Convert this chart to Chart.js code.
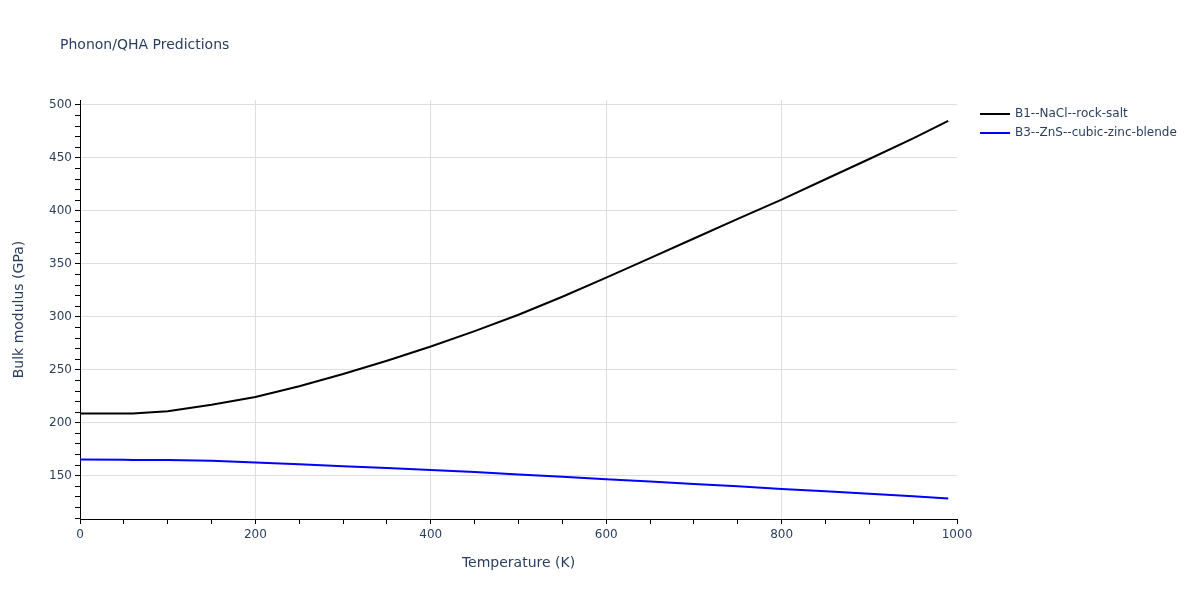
<!DOCTYPE html>
<html lang="en">
<head>
  <meta charset="UTF-8">
  <title>Phonon/QHA Predictions</title>
  <style>
    body { margin: 0; background: #fff; }
    .chart-container { width: 1200px; height: 600px; }
  </style>
</head>
<body>
  <div class="chart-container">
    <canvas id="myChart" width="1200" height="600"></canvas>
  </div>

  <script src="https://cdn.jsdelivr.net/npm/chart.js"></script>
  <script>
    // Temperatures (K) and bulk modulus (GPa).
    const temps = [0, 50, 60, 100, 150, 200, 250, 300, 350, 400, 450, 500, 550, 600, 650, 700, 750, 800, 850, 900, 950, 990];
    const rockSalt = [208.7, 208.7, 208.8, 211, 217, 224.3, 234.5, 246, 258.5, 272, 286.5, 302, 319, 337, 355.5, 374, 392.5, 410.6, 429.9, 449, 468.5, 485];
    const zincBlende = [165.4, 165.1, 165.0, 164.8, 164.2, 162.6, 160.8, 159, 157.3, 155.5, 153.5, 151.3, 149, 146.8, 144.6, 142.3, 140, 137.6, 135.3, 133, 130.6, 128.6];
    const seriesNames = ['B1--NaCl--rock-salt', 'B3--ZnS--cubic-zinc-blende'];
    const seriesColors = ['#000000', '#0000ff'];

    // Labelled ticks.
    const xTickLabels = [0, 200, 400, 600, 800, 1000];
    const yTickLabels = [150, 200, 250, 300, 350, 400, 450, 500];

    const TEXT_COLOR = '#2a3f5f';
    const GRID_COLOR = '#dedede';
    const FONT = '"DejaVu Sans", Verdana, sans-serif';

    /**
     * Title and legend drawn in the padding area.
     */
    const decorPlugin = {
      id: 'decor',
      afterDraw(chart) {
        const ctx = chart.ctx;
        ctx.save();
        ctx.fillStyle = TEXT_COLOR;
        ctx.textBaseline = 'middle';
        ctx.textAlign = 'left';
        ctx.font = '14px ' + FONT;
        ctx.fillText('Phonon/QHA Predictions', 60, 45);

        ctx.font = '12px ' + FONT;
        seriesNames.forEach((name, i) => {
          const y = 114 + i * 19;
          ctx.strokeStyle = seriesColors[i];
          ctx.lineWidth = 2;
          ctx.beginPath();
          ctx.moveTo(980, y);
          ctx.lineTo(1010, y);
          ctx.stroke();
          ctx.fillText(name, 1015, y);
        });
        ctx.restore();
      }
    };

    function drawChart() {
      const myChart = document.querySelector('#myChart');

      const datasets = [rockSalt, zincBlende].map((vals, i) => ({
        label: seriesNames[i],
        data: temps.map((t, j) => ({x: t, y: vals[j]})),
        borderColor: seriesColors[i],
        borderWidth: 2,
        pointRadius: 0,
        tension: 0,
        fill: false
      }));

      const config = {
        type: 'line',
        data: {datasets},
        options: {
          responsive: false,
          maintainAspectRatio: false,
          animation: false,
          layout: {
            padding: {left: 0, right: 243, top: 100, bottom: 0}
          },
          plugins: {
            legend: {display: false},
            title: {display: false},
            tooltip: {enabled: false}
          },
          scales: {
            x: {
              type: 'linear',
              min: 0,
              max: 1000,
              afterBuildTicks: scale => {
                const ticks = [];
                for (let v = 0; v <= 1000; v += 50) ticks.push({value: v});
                scale.ticks = ticks;
              },
              afterFit: scale => { scale.height = 81; },
              ticks: {
                autoSkip: false,
                maxRotation: 0,
                padding: 4,
                color: TEXT_COLOR,
                font: {family: FONT, size: 12},
                callback: v => xTickLabels.includes(v) ? String(v) : ''
              },
              grid: {
                color: c => (c.tick && c.tick.value > 0 && c.tick.value < 1000 && xTickLabels.includes(c.tick.value)) ? GRID_COLOR : 'rgba(0,0,0,0)',
                tickColor: '#000',
                tickLength: 5,
                drawTicks: true
              },
              border: {display: true, color: '#000', width: 1},
              title: {
                display: true,
                text: 'Temperature (K)',
                color: TEXT_COLOR,
                font: {family: FONT, size: 14},
                padding: {top: 0, bottom: 28}
              }
            },
            y: {
              type: 'linear',
              min: 109.2,
              max: 504.7,
              afterBuildTicks: scale => {
                const ticks = [];
                for (let v = 110; v <= 500; v += 10) ticks.push({value: v});
                scale.ticks = ticks;
              },
              afterFit: scale => { scale.width = 80; },
              ticks: {
                autoSkip: false,
                padding: 3,
                color: TEXT_COLOR,
                font: {family: FONT, size: 12},
                callback: v => yTickLabels.includes(v) ? String(v) : ''
              },
              grid: {
                color: c => (c.tick && yTickLabels.includes(c.tick.value)) ? GRID_COLOR : 'rgba(0,0,0,0)',
                tickColor: '#000',
                tickLength: 5,
                drawTicks: true
              },
              border: {display: true, color: '#000', width: 1},
              title: {
                display: true,
                text: 'Bulk modulus (GPa)',
                color: TEXT_COLOR,
                font: {family: FONT, size: 14},
                padding: {top: 11, bottom: 0}
              }
            }
          }
        },
        plugins: [decorPlugin]
      };

      return new Chart(myChart, config);
    }

    const chart = drawChart();
    window.chart = chart;
  </script>
</body>
</html>
